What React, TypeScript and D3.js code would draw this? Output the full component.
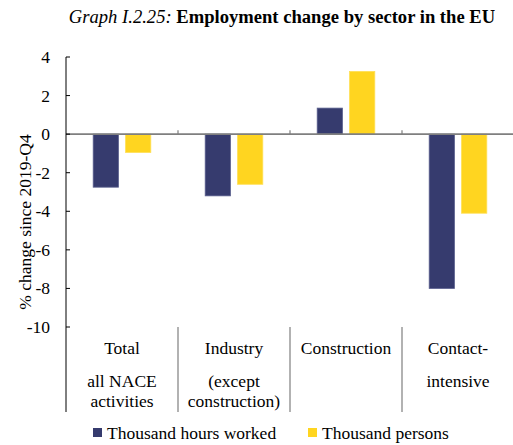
import React from "react";
import * as d3 from "d3";

const categories = ["Total", "Industry", "Construction", "Contact-intensive"];
const categoryLines: string[][] = [
  ["Total", "", "all NACE", "activities"],
  ["Industry", "", "(except", "construction)"],
  ["Construction"],
  ["Contact-", "", "intensive"],
];
const seriesNames = ["Thousand hours worked", "Thousand persons"];
const hoursWorked = [-2.75, -3.2, 1.35, -8.0];
const persons = [-0.95, -2.6, 3.25, -4.1];
const yTicks = [4, 2, 0, -2, -4, -6, -8, -10];
const colors = ["#363B6E", "#FFD520"];

export default function App() {
  const W = 513, H = 445;
  const left = 66, right = 514, top = 57, bottom = 327;
  const y = d3.scaleLinear().domain([4, -10]).range([top, bottom]);
  const x0 = d3.scaleBand().domain(categories).range([left, right]).padding(0);
  const x1 = d3.scaleBand().domain(seriesNames).range([0, x0.bandwidth()]).paddingInner(0.22).paddingOuter(0.84);
  const series = [hoursWorked, persons];
  const font = '"Liberation Serif", "Times New Roman", "DejaVu Serif", serif';
  const fs = 17.5;
  return (
    <svg width={W} height={H} style={{ position: "absolute", left: 0, top: 0, fontFamily: font }}>
      <rect width={W} height={H} fill="#fff" />
      <text x={282} y={23} textAnchor="middle" fontSize={18.6}>
        <tspan fontStyle="italic">Graph I.2.25:</tspan>
        <tspan fontWeight="bold"> Employment change by sector in the EU</tspan>
      </text>
      {series.map((vals, si) =>
        vals.map((v, ci) => {
          const xx = (x0(categories[ci]) as number) + (x1(seriesNames[si]) as number);
          const y0 = y(0), yv = y(v);
          return (
            <rect key={`${si}-${ci}`} x={xx} y={Math.min(y0, yv)} width={x1.bandwidth()} height={Math.abs(yv - y0)}
              fill={colors[si]} stroke={si === 0 ? "#5a5f8e" : "#ffdf55"} strokeWidth={0.8} />
          );
        })
      )}
      <line x1={left} x2={right} y1={y(0)} y2={y(0)} stroke="#7f7f7f" strokeWidth={1.6} />
      {categories.slice(1).map((c) => (
        <g key={c}>
          <line x1={x0(c)} x2={x0(c)} y1={y(0) - 4} y2={y(0)} stroke="#7f7f7f" strokeWidth={1.2} />
          <line x1={x0(c)} x2={x0(c)} y1={bottom} y2={412} stroke="#7f7f7f" strokeWidth={1.2} />
        </g>
      ))}
      <line x1={left} x2={left} y1={top} y2={412} stroke="#000" strokeWidth={1} />
      {yTicks.map((t) => (
        <g key={t}>
          <line x1={left} x2={left + 4} y1={y(t)} y2={y(t)} stroke="#000" strokeWidth={1} />
          <text x={50} y={y(t) + 6} textAnchor="end" fontSize={fs}>{t}</text>
        </g>
      ))}
      <text transform={`translate(25,222) rotate(-90)`} textAnchor="middle" fontSize={fs} dy={5.5}>% change since 2019-Q4</text>
      {categories.map((c, ci) => {
        const cx = (x0(c) as number) + x0.bandwidth() / 2;
        const lines = categoryLines[ci];
        const yy = [354, 387, 387, 407];
        return (
          <g key={c}>
            {lines.map((l, li) =>
              l ? (
                <text key={li} x={cx} y={lines.length === 4 ? yy[li] : li === 0 ? 354 : 387} textAnchor="middle" fontSize={fs}>{l}</text>
              ) : null
            )}
          </g>
        );
      })}
      {seriesNames.map((s, i) => {
        const lx = i === 0 ? 93 : 308;
        return (
          <g key={s}>
            <rect x={lx} y={428} width={9} height={9} fill={colors[i]} />
            <text x={lx + 14} y={439} fontSize={fs}>{s}</text>
          </g>
        );
      })}
    </svg>
  );
}
